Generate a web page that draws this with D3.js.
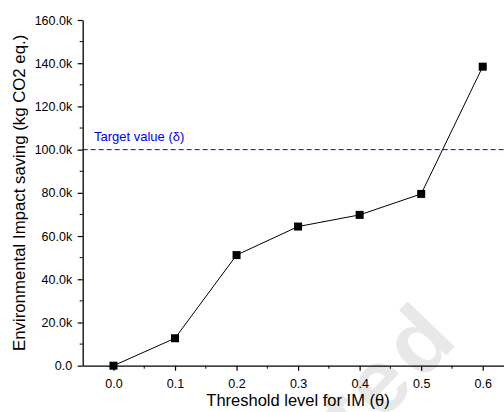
<!DOCTYPE html>
<html>
<head>
<meta charset="utf-8">
<script src="https://cdn.jsdelivr.net/npm/d3@7"></script>
<style>
  body { margin: 0; background: #fff; }
  svg { display: block; font-family: "Liberation Sans", Arial, sans-serif; }
</style>
</head>
<body>
<svg id="chart" width="504" height="412"></svg>
<script>
// data
let thresholds = [0.0, 0.1, 0.2, 0.3, 0.4, 0.5, 0.6];
let savings = [0, 12700, 51200, 64400, 69800, 79500, 138400];
let targetValue = 100000;
let yTicks = [0, 20000, 40000, 60000, 80000, 100000, 120000, 140000, 160000];
let xTicks = [0.0, 0.1, 0.2, 0.3, 0.4, 0.5, 0.6];

let svg = d3.select('#chart');

let x = d3.scaleLinear().domain([-0.05, 0.65]).range([82.7, 513.5]);
let y = d3.scaleLinear().domain([0, 160000]).range([365.7, 20]);

// faint watermark behind everything
svg.append('text')
  .attr('transform', 'translate(463,338) rotate(-46)')
  .attr('text-anchor', 'end')
  .style('font-size', '90px')
  .style('font-weight', 'bold')
  .style('letter-spacing', '6px')
  .style('fill', '#e8e8e8')
  .text('Accepted');

// target line
svg.append('line')
  .attr('x1', x(-0.05)).attr('x2', 504)
  .attr('y1', y(targetValue)).attr('y2', y(targetValue))
  .attr('stroke', '#0000ee')
  .attr('stroke-width', 1)
  .attr('stroke-dasharray', '5,3');

svg.append('text')
  .attr('x', 94).attr('y', 141)
  .style('font-size', '13px')
  .style('fill', '#0000ee')
  .text('Target value (\u03b4)');

// axes
let fmtY = d => d === 0 ? '0.0' : (d / 1000).toFixed(1) + 'k';

let gy = svg.append('g').attr('transform', `translate(${x(-0.05)},0)`);
gy.call(d3.axisLeft(y).tickValues(yTicks).tickFormat(fmtY).tickSize(5).tickSizeOuter(0));
// minor y ticks
gy.selectAll('.minor').data(d3.range(10000, 160000, 20000)).enter().append('line')
  .attr('x1', 0).attr('x2', -3)
  .attr('y1', d => y(d)).attr('y2', d => y(d))
  .attr('stroke', '#000');

let gx = svg.append('g').attr('transform', `translate(0,${y(0)})`);
gx.call(d3.axisBottom(x).tickValues(xTicks).tickFormat(d3.format('.1f')).tickSize(5).tickSizeOuter(0));
gx.selectAll('.minor').data([0.05, 0.15, 0.25, 0.35, 0.45, 0.55]).enter().append('line')
  .attr('x1', d => x(d)).attr('x2', d => x(d))
  .attr('y1', 0).attr('y2', 3)
  .attr('stroke', '#000');

[gx, gy].forEach(g => {
  g.select('.domain').attr('stroke', '#000').attr('stroke-width', 1.3);
  g.selectAll('.tick line').attr('stroke', '#000').attr('stroke-width', 1.2);
  g.selectAll('.tick text')
    .style('font-size', '12.5px')
    .style('font-family', '"Liberation Sans", Arial, sans-serif')
    .attr('fill', '#000');
});
gx.selectAll('.tick text').attr('dy', '1.15em');
gy.selectAll('.tick text').attr('x', -10.5);

// axis titles
svg.append('text')
  .attr('x', 298).attr('y', 406)
  .attr('text-anchor', 'middle')
  .style('font-size', '16.5px')
  .text('Threshold level for IM (\u03b8)');

svg.append('text')
  .attr('transform', `translate(25,${(y(0) + y(160000)) / 2}) rotate(-90)`)
  .attr('text-anchor', 'middle')
  .style('font-size', '16.8px')
  .text('Environmental Impact saving (kg CO2 eq.)');

// series line and markers
let pts = thresholds.map((t, i) => [t, savings[i]]);
svg.append('path')
  .datum(pts)
  .attr('fill', 'none')
  .attr('stroke', '#000')
  .attr('stroke-width', 1)
  .attr('d', d3.line().x(d => x(d[0])).y(d => y(d[1])));

svg.selectAll('.pt').data(pts).enter().append('rect')
  .attr('class', 'pt')
  .attr('x', d => x(d[0]) - 4)
  .attr('y', d => y(d[1]) - 4)
  .attr('width', 8).attr('height', 8)
  .attr('fill', '#000');
</script>
</body>
</html>
